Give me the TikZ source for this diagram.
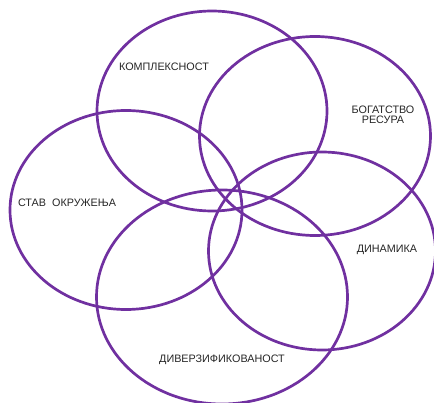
\documentclass[tikz,border=0pt]{standalone}
\usepackage{fontspec}
\setmainfont{Liberation Sans}
\usetikzlibrary{shapes.geometric}
\definecolor{venn}{HTML}{7030A0}

\begin{document}
\begin{tikzpicture}[
    x=1pt, y=-1pt,
    circ/.style={ellipse, draw=venn, line width=2.7pt, inner sep=0pt},
    lbl/.style={font=\fontsize{10.8}{12}\selectfont, align=center, text=black!85}
]
    \useasboundingbox (0,0) rectangle (434,403);

    \node[circ, minimum width=230pt, minimum height=200pt] (kompl) at (212,111) {};
    \node[circ, minimum width=231pt, minimum height=199pt] (bogat) at (315,136) {};
    \node[circ, minimum width=232pt, minimum height=199pt] (stav) at (126,210) {};
    \node[circ, minimum width=227pt, minimum height=198pt] (dinam) at (322,251) {};
    \node[circ, minimum width=251pt, minimum height=214pt] (diverz) at (222,297) {};

    \node[lbl] (tkompl) at (164,67) {КОМПЛЕКСНОСТ};
    \node[lbl] (tbogat) at (383,115) {БОГАТСТВО\\[-2pt]РЕСУРА};
    \node[lbl] (tstav) at (67,203) {СТАВ\ \ ОКРУЖЕЊА};
    \node[lbl] (tdinam) at (387,250) {ДИНАМИКА};
    \node[lbl] (tdiverz) at (222,360) {ДИВЕРЗИФИКОВАНОСТ};
\end{tikzpicture}
\end{document}
